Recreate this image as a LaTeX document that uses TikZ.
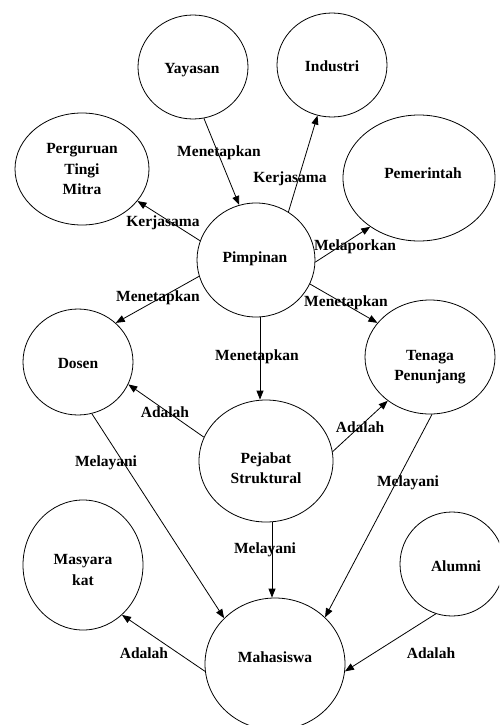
\documentclass[tikz,border=0pt]{standalone}
\usepackage{fontspec}
\setmainfont{Liberation Serif}
\usetikzlibrary{shapes.geometric,arrows.meta}
\begin{document}
\begin{tikzpicture}[x=1pt,y=-1pt,
  bub/.style={draw, ellipse, inner sep=0pt, line width=0.8pt},
  txt/.style={font=\bfseries\fontsize{15.5}{20.5}\selectfont, align=center, inner sep=0pt},
  rel/.style={draw, line width=0.8pt, -{Triangle[length=9pt,width=7pt]}},
  lab/.style={font=\bfseries\fontsize{15.5}{20.5}\selectfont, inner sep=0pt}]
\useasboundingbox (0,0) rectangle (499,725);
\clip (0,0) rectangle (499,725);

% bubbles
\node[bub, minimum width=110, minimum height=104] (yay) at (193,67) {};
\node[bub, minimum width=110, minimum height=104] (ind) at (332,65) {};
\node[bub, minimum width=134, minimum height=112] (per) at (82,169) {};
\node[bub, minimum width=152, minimum height=126] (pem) at (419,178) {};
\node[bub, minimum width=118, minimum height=114] (pim) at (256,260) {};
\node[bub, minimum width=110, minimum height=106] (dos) at (78,362) {};
\node[bub, minimum width=130, minimum height=114] (ten) at (430,357) {};
\node[bub, minimum width=134, minimum height=122] (pej) at (266,461) {};
\node[bub, minimum width=120, minimum height=130] (mas) at (83,565) {};
\node[bub, minimum width=104, minimum height=104] (alu) at (452,564) {};
\node[bub, minimum width=140, minimum height=132] (mah) at (275,664) {};

% bubble texts
\node[txt] (yayT) at (192,70) {Yayasan};
\node[txt] (indT) at (332,66) {Industri};
\node[txt] (perT) at (82,169) {Perguruan\\Tingi\\Mitra};
\node[txt] (pemT) at (423,173) {Pemerintah};
\node[txt] (pimT) at (255,259) {Pimpinan};
\node[txt] (dosT) at (78,363) {Dosen};
\node[txt] (tenT) at (430,367) {Tenaga\\Penunjang};
\node[txt] (pejT) at (266,468) {Pejabat\\Struktural};
\node[txt] (masT) at (83,570) {Masyara\\kat};
\node[txt] (aluT) at (456,566) {Alumni};
\node[txt] (mahT) at (275,657) {Mahasiswa};

% relations
\draw[rel] (yay.-78) -- (pim.107);
\draw[rel] (pim.56) -- (ind.254);
\draw[rel] (pim.161) -- (per.-30);
\draw[rel] (pim.-2) -- (pem.225);
\draw[rel] (pim.196) -- (dos.46);
\draw[rel] (pim.-24) -- (ten.147);
\draw[rel] ([xshift=4pt]pim.south) -- ([xshift=4pt]pim.south |- pej.north);
\draw[rel] (pej.159) -- (dos.-24);
\draw[rel] (pej.8) -- (ten.226);
\draw[rel] (dos.-75) -- (mah.138);
\draw[rel] (ten.-88) -- (mah.43);
\draw[rel] ([xshift=6pt]pej.south) -- ([xshift=6pt]pej.south |- mah.north);
\draw[rel] (mah.186) -- (mas.-52);
\draw[rel] (alu.252) -- (mah.-6);

% relation labels
\node[lab] (l1) at (219,153) {Menetapkan};
\node[lab] (l2) at (290,179) {Kerjasama};
\node[lab] (l3) at (163,223) {Kerjasama};
\node[lab] (l4) at (355,247) {Melaporkan};
\node[lab] (l5) at (158,298) {Menetapkan};
\node[lab] (l6) at (346,303) {Menetapkan};
\node[lab] (l7) at (257,357) {Menetapkan};
\node[lab] (l8) at (165,412) {Adalah};
\node[lab] (l9) at (360,427) {Adalah};
\node[lab] (l10) at (106,463) {Melayani};
\node[lab] (l11) at (408,483) {Melayani};
\node[lab] (l12) at (265,550) {Melayani};
\node[lab] (l13) at (144,653) {Adalah};
\node[lab] (l14) at (431,653) {Adalah};
\end{tikzpicture}
\end{document}
